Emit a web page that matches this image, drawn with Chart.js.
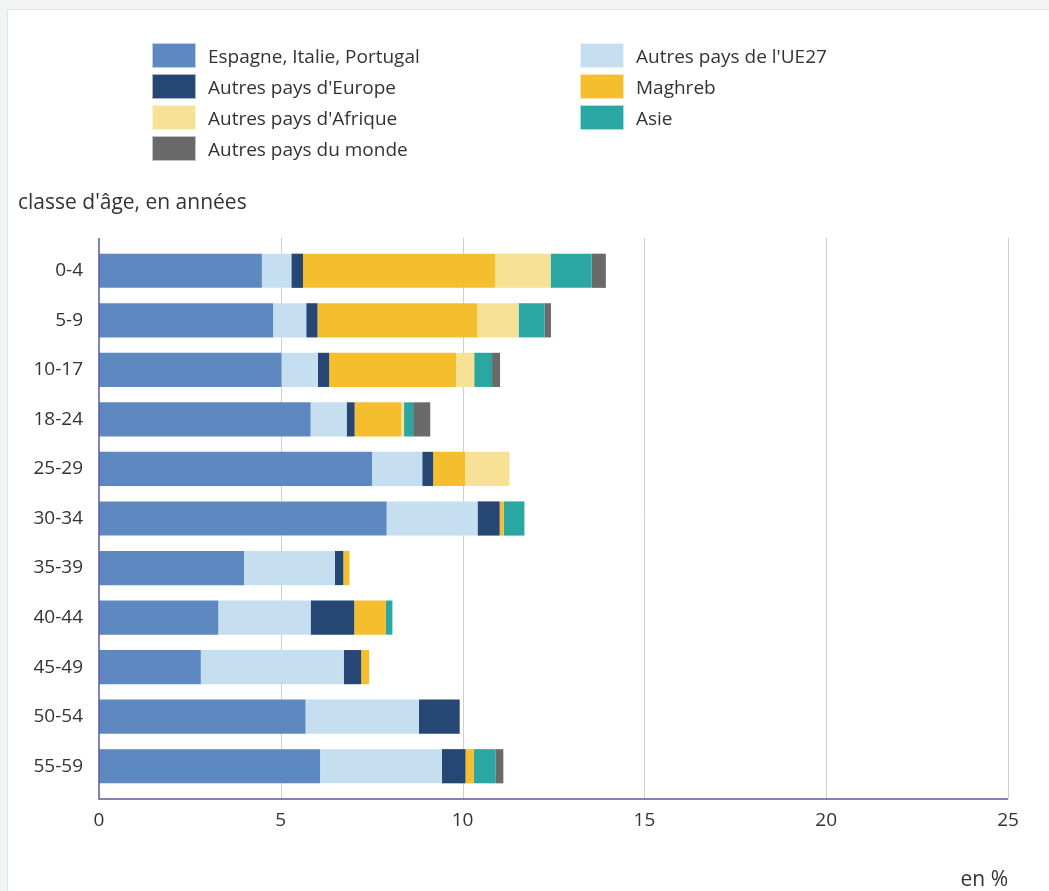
<!DOCTYPE html>
<html>
<head>
<meta charset="utf-8">
<script src="https://cdn.jsdelivr.net/npm/chart.js@4"></script>
<style>
  body { margin: 0; background: #f3f4f4; font-family: 'Open Sans', sans-serif; color: #333; }
  #card { position: absolute; left: 7px; top: 9px; width: 1060px; height: 900px; background: #fff; border: 1px solid #e2e4e4; }
  #wrap { position: absolute; left: 0; top: 0; width: 1049px; height: 891px; }
  #legend { position: absolute; left: 0; top: 0; }
  .item { position: absolute; height: 25px; font-size: 19px; white-space: nowrap; }
  .item span.box { position: absolute; left: 0; top: 0; width: 42px; height: 23px; border: 1px solid rgba(255,255,255,0.6); }
  .item span.txt { position: absolute; left: 56px; top: -1px; line-height: 28px; }
  .note { position: absolute; font-size: 21px; line-height: 28px; white-space: nowrap; }
</style>
</head>
<body>
<div id="card"></div>
<div id="wrap"><canvas id="bars" width="1049" height="891"></canvas></div>
<div id="legend"></div>
<div class="note" style="left:18px; top:187px;">classe d'âge, en années</div>
<div class="note" style="right:41px; top:864px;">en %</div>
<script>
var ageGroups = ['0-4', '5-9', '10-17', '18-24', '25-29', '30-34', '35-39', '40-44', '45-49', '50-54', '55-59'];
var seriesNames = ['Espagne, Italie, Portugal', "Autres pays de l'UE27", "Autres pays d'Europe", 'Maghreb', "Autres pays d'Afrique", 'Asie', 'Autres pays du monde'];
var seriesColors = ['#5e89c0', '#c5dff1', '#264673', '#f4be2f', '#f6e195', '#2ba7a3', '#6a6a6b'];

var espagneItaliePortugal = [4.48, 4.79, 5.02, 5.82, 7.51, 7.91, 3.99, 3.28, 2.80, 5.68, 6.08];
var autresUE27           = [0.81, 0.91, 1.00, 0.99, 1.38, 2.50, 2.50, 2.54, 3.93, 3.12, 3.35];
var autresEurope         = [0.32, 0.31, 0.31, 0.22, 0.30, 0.61, 0.23, 1.20, 0.48, 1.12, 0.65];
var maghreb              = [5.29, 4.39, 3.49, 1.28, 0.88, 0.11, 0.17, 0.87, 0.22, 0, 0.23];
var autresAfrique        = [1.52, 1.14, 0.50, 0.08, 1.22, 0, 0, 0, 0, 0, 0];
var asie                 = [1.13, 0.71, 0.49, 0.25, 0, 0.57, 0, 0.18, 0, 0, 0.59];
var autresMonde          = [0.39, 0.18, 0.22, 0.47, 0, 0, 0, 0, 0, 0, 0.22];
var xTicks = [0, 5, 10, 15, 20, 25];

var allSeries = [espagneItaliePortugal, autresUE27, autresEurope, maghreb, autresAfrique, asie, autresMonde];

// legend in two columns, row-major like the original
var legend = document.getElementById('legend');
seriesNames.forEach(function (name, i) {
    var col = i % 2, row = Math.floor(i / 2);
    var d = document.createElement('div');
    d.className = 'item';
    d.style.left = (152 + col * 428) + 'px';
    d.style.top = (43 + row * 31) + 'px';
    d.innerHTML = '<span class="box" style="background:' + seriesColors[i] + '"></span><span class="txt"></span>';
    d.querySelector('.txt').textContent = name;
    legend.appendChild(d);
});

// grid and axis lines a bit beyond the chart area, like the original
var EXT = 8;
var frame = {
    id: 'frame',
    beforeDatasetsDraw: function (chart) {
        var c = chart.ctx, a = chart.chartArea, xs = chart.scales.x;
        c.save();
        c.strokeStyle = '#cfcfcf';
        c.lineWidth = 1;
        xTicks.forEach(function (t) {
            if (t === 0) return;
            var px = Math.round(xs.getPixelForValue(t)) + 0.5;
            c.beginPath();
            c.moveTo(px, a.top - EXT);
            c.lineTo(px, a.bottom + EXT);
            c.stroke();
        });
        c.restore();
    },
    afterDatasetsDraw: function (chart) {
        var c = chart.ctx, a = chart.chartArea;
        c.save();
        c.strokeStyle = '#5a5aa2';
        c.lineWidth = 1.5;
        c.beginPath();
        c.moveTo(a.left, a.top - EXT);
        c.lineTo(a.left, a.bottom + EXT);
        c.lineTo(a.right, a.bottom + EXT);
        c.stroke();
        c.restore();
    }
};

var ctx = document.getElementById('bars').getContext('2d');
var chart = new Chart(ctx, {
    type: 'bar',
    data: {
        labels: ageGroups,
        datasets: allSeries.map(function (vals, i) {
            return {
                label: seriesNames[i],
                data: vals,
                backgroundColor: seriesColors[i],
                borderWidth: 0,
                categoryPercentage: 0.69,
                barPercentage: 1
            };
        })
    },
    options: {
        indexAxis: 'y',
        responsive: false,
        animation: false,
        layout: { padding: { left: 0, right: 41, top: 246, bottom: 0 } },
        plugins: { legend: { display: false }, tooltip: { enabled: false } },
        scales: {
            x: {
                stacked: true,
                min: 0, max: 25,
                afterBuildTicks: function (s) { s.ticks = xTicks.map(function (v) { return { value: v }; }); },
                afterFit: function (s) { s.height = 100; },
                grid: { display: false, drawTicks: false },
                border: { display: false },
                ticks: { padding: 18, color: '#333', font: { family: 'Open Sans', size: 19 } }
            },
            y: {
                stacked: true,
                afterFit: function (s) { s.width = 99; },
                grid: { display: false, drawTicks: false },
                border: { display: false },
                ticks: { padding: 16, color: '#333', font: { family: 'Open Sans', size: 19 } }
            }
        }
    },
    plugins: [frame]
});
</script>
</body>
</html>
